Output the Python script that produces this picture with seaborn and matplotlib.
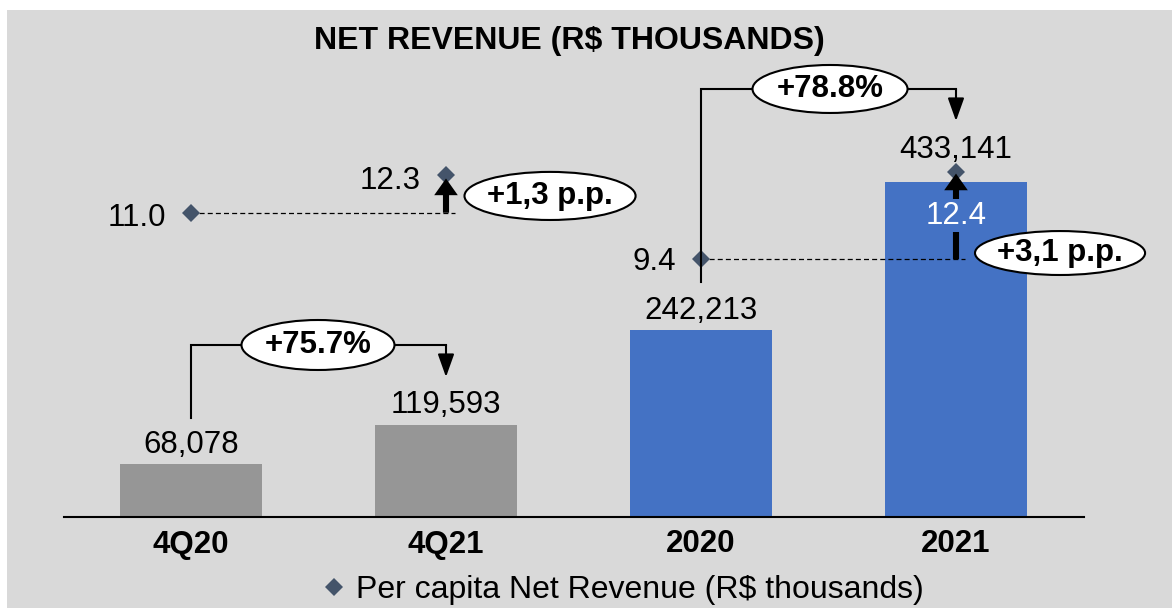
import seaborn as sns
import pandas as pd
import matplotlib.pyplot as plt
from matplotlib.patches import Ellipse, Rectangle
from matplotlib.lines import Line2D
from matplotlib.transforms import blended_transform_factory

# data
categories = ['4Q20', '4Q21', '2020', '2021']
net_revenue = [68078, 119593, 242213, 433141]
revenue_labels = ['68,078', '119,593', '242,213', '433,141']
per_capita = [11.0, 12.3, 9.4, 12.4]
per_capita_labels = ['11.0', '12.3', '9.4', '12.4']
growth_labels = ['+75.7%', '+78.8%']
pp_labels = ['+1,3 p.p.', '+3,1 p.p.']
bar_colors = ['#969696', '#969696', '#4472c4', '#4472c4']
legend_label = 'Per capita Net Revenue (R$ thousands)'
title = 'NET REVENUE (R$ THOUSANDS)'

plt.rcParams['font.family'] = ['Liberation Sans', 'DejaVu Sans']
FS = 22.5
DIAMOND = '#44546a'
BLUE = '#4472c4'

fig = plt.figure(figsize=(11.72, 6.08), dpi=100, facecolor='white')
# grey panel with a thin white margin on top / left
fig.patches.append(Rectangle((7 / 1172, 0), 1, 1 - 10 / 608, transform=fig.transFigure,
                             facecolor='#d9d9d9', edgecolor='none', zorder=-10))

ax = fig.add_axes([63.5 / 1172, 91 / 608, 1020 / 1172, 517 / 608])
ax.set_facecolor('none')
df = pd.DataFrame({'period': categories, 'revenue': net_revenue})
sns.barplot(data=df, x='period', y='revenue', hue='period', palette=bar_colors,
            width=0.553, saturation=1, legend=False, ax=ax)
ax.set_xlim(-0.5, 3.5)
ax.set_ylim(0, max(net_revenue) * 517 / 335)
sns.despine(ax=ax, left=True)
ax.spines['bottom'].set_color('black')
ax.spines['bottom'].set_linewidth(1.5)
ax.set_yticks([])
ax.set_xlabel('')
ax.set_ylabel('')
ax.tick_params(axis='x', length=0, pad=9, labelsize=FS)
for lab in ax.get_xticklabels():
    lab.set_fontweight('bold')

# value labels above bars
bar_offsets = [8.3, 8.3, 8.0, 17]
for i, (v, lab) in enumerate(zip(net_revenue, revenue_labels)):
    ax.annotate(lab, (i, v), xytext=(0, bar_offsets[i]), textcoords='offset points',
                ha='center', va='baseline', fontsize=FS)

# per capita series on its own scale
ax2 = ax.twinx()
ax2.set_ylim(0.504, 18.338)
ax2.axis('off')
xs = list(range(len(categories)))
ax2.plot(xs, per_capita, ls='', marker='D', ms=9.5, color=DIAMOND, mew=0, zorder=3)

ax2.plot([0, 1.035], [per_capita[0]] * 2, color='black', lw=0.9, ls=(0, (4, 2.5)), zorder=2)
ax2.plot([2, 3.035], [per_capita[2]] * 2, color='black', lw=0.9, ls=(0, (4, 2.5)), zorder=2)

label_dy = [-9.9, -10.4, -8.2]
for i in range(3):
    ax2.annotate(per_capita_labels[i], (i, per_capita[i]), xytext=(-18, label_dy[i]),
                 textcoords='offset points', ha='right', va='baseline', fontsize=FS)

thick = dict(arrowstyle='simple,head_length=0.6,head_width=0.85,tail_width=0.22',
             mutation_scale=20, fc='black', ec='none', shrinkA=0, shrinkB=0)
ax2.annotate('', xy=(1, per_capita[1] - 0.12), xytext=(1, per_capita[0]),
             arrowprops=thick, zorder=4)
ax2.annotate('', xy=(3, per_capita[3] - 0.05), xytext=(3, per_capita[2]),
             arrowprops=thick, zorder=4)
ax2.annotate(per_capita_labels[3], (3, per_capita[3]), xytext=(0, -37),
             textcoords='offset points', ha='center', va='baseline', fontsize=FS,
             color='white', zorder=5,
             bbox=dict(boxstyle='square,pad=0.05', fc=BLUE, ec='none'))

# growth brackets
tr = blended_transform_factory(ax2.transData, ax2.transAxes)
thin = dict(arrowstyle='-|>,head_length=0.7,head_width=0.25', mutation_scale=20,
            lw=1.5, color='black', shrinkA=0, shrinkB=0)
brackets = [(0, 1, 0.1915, 0.3327, 0.2708), (2, 3, 0.4545, 0.8279, 0.766)]
for x0, x1, y0, ytop, ytip in brackets:
    ax2.plot([x0, x0, x1], [y0, ytop, ytop], transform=tr, color='black', lw=1.5,
             solid_joinstyle='miter', zorder=4)
    ax2.annotate('', xy=(x1, ytip), xytext=(x1, ytop), xycoords=tr, textcoords=tr,
                 arrowprops=thin, zorder=4)

ovals = [(0.498, 0.3327, 0.6, 0.0967, growth_labels[0]),
         (2.506, 0.8279, 0.608, 0.0928, growth_labels[1]),
         (1.408, 0.621, 0.671, 0.093, pp_labels[0]),
         (3.408, 0.5106, 0.667, 0.085, pp_labels[1])]
for cx, cy, w, h, lab in ovals:
    ax2.add_patch(Ellipse((cx, cy), w, h, transform=tr, fc='white', ec='black',
                          lw=1.5, zorder=6, clip_on=False))
    ax2.text(cx, cy, lab, transform=tr, ha='center', va='center', fontsize=FS,
             fontweight='bold', zorder=7, clip_on=False)

fig.text(569 / 1172, 1 - 41 / 608, title, ha='center', va='center', fontsize=23,
         fontweight='bold')

handle = Line2D([], [], ls='', marker='D', ms=9.5, color=DIAMOND, mew=0)
fig.legend(handles=[handle], labels=[legend_label], loc='center',
           bbox_to_anchor=(624 / 1172, 1 - 590 / 608), frameon=False, fontsize=23,
           handlelength=0.6, handletextpad=0.4)

fig.savefig('out.png', dpi=100)
